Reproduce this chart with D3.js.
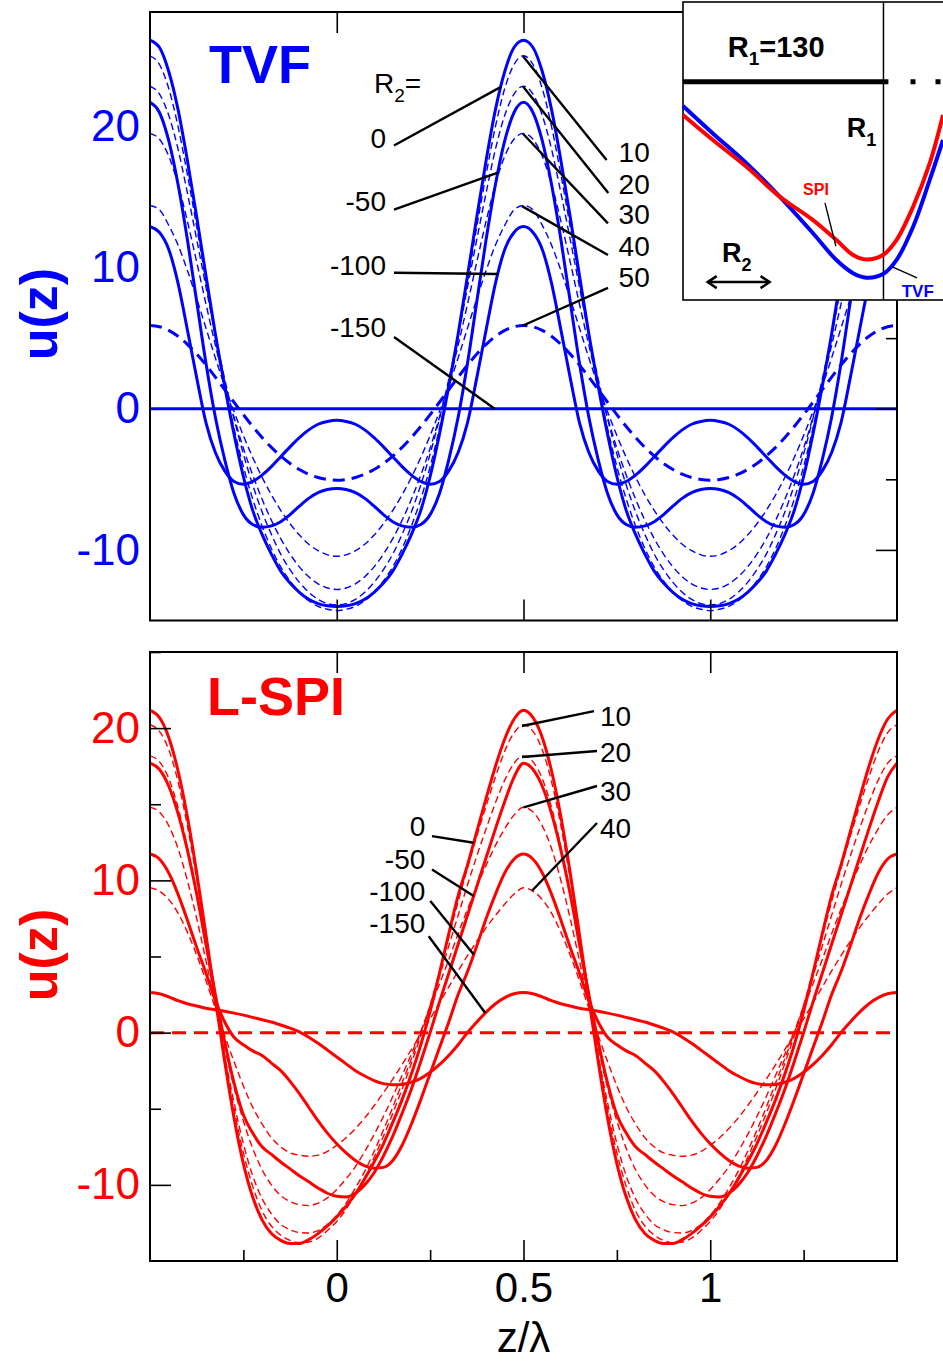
<!DOCTYPE html>
<html>
<head>
<meta charset="utf-8">
<script src="https://d3js.org/d3.v7.min.js"></script>
<style>
html,body{margin:0;padding:0;background:#fff;}
svg{display:block;}
text{font-family:"Liberation Sans",Arial,Helvetica,sans-serif;}
</style>
</head>
<body>
<svg id="chart" width="943" height="1362"></svg>
<script>
// ================= DATA =================
const xTicksMajor = [0, 0.5, 1];
const xTicksMinor = [-0.25, 0.25, 0.75, 1.25];
const xTickLabels = ["0", "0.5", "1"];
const yTicksMajor = [-10, 0, 10, 20];
const yTicksMinor = [-5, 5, 15, 25];
const yTickLabels = ["-10", "0", "10", "20"];

// TVF: values on half period, s = |z| from 0 to 0.5 (curves are even and 1-periodic)
const tvfS = [0,0.025,0.05,0.075,0.1,0.125,0.15,0.175,0.2,0.225,0.25,0.275,0.3,0.325,0.35,0.375,0.4,0.425,0.45,0.475,0.5];
const tvfR2 = ["0","-50","-100","-150","10","20","30","40","50"];
const tvf_0    = [-14.0,-13.95,-13.8,-13.5,-13.0,-12.35,-11.5,-10.3,-8.9,-7.2,-4.8,-1.8,1.6,5.3,9.4,13.6,17.6,21.2,23.9,25.6,26.1];
const tvf_m50  = [-5.65,-5.72,-5.95,-6.35,-6.9,-7.5,-8.0,-8.3,-8.4,-8.2,-7.5,-6.0,-3.6,-0.6,3.2,7.6,12.0,15.9,19.0,21.0,21.7];
const tvf_m100 = [-0.82,-0.9,-1.1,-1.5,-2.05,-2.7,-3.4,-4.1,-4.7,-5.15,-5.35,-5.15,-4.4,-3.1,-1.0,2.2,5.6,8.9,11.3,12.5,12.9];
const tvf_m150 = [0,0,0,0,0,0,0,0,0,0,0,0,0,0,0,0,0,0,0,0,0];
const tvf_10   = [-14.3,-14.2,-14.0,-13.6,-13.0,-12.2,-11.2,-9.9,-8.3,-6.4,-4.1,-1.4,1.7,5.2,9.0,12.9,16.6,20.0,22.7,24.4,25.0];
const tvf_20   = [-13.9,-13.8,-13.5,-13.0,-12.3,-11.4,-10.3,-8.9,-7.3,-5.4,-3.2,-0.7,2.1,5.2,8.6,12.0,15.3,18.4,20.8,22.3,22.85];
const tvf_30   = [-12.8,-12.7,-12.4,-11.9,-11.2,-10.3,-9.2,-7.9,-6.4,-4.7,-2.8,-0.6,1.8,4.5,7.4,10.4,13.3,15.9,17.9,19.1,19.5];
const tvf_40   = [-10.45,-10.35,-10.05,-9.6,-8.95,-8.15,-7.2,-6.1,-4.85,-3.45,-1.9,-0.2,1.6,3.6,5.7,7.8,9.8,11.6,13.0,14.1,14.4];
const tvf_50   = [-5.06,-5.01,-4.87,-4.64,-4.30,-3.88,-3.35,-2.74,-2.03,-1.26,-0.42,0.46,1.35,2.24,3.09,3.88,4.56,5.13,5.55,5.81,5.9];

// L-SPI: values over one period z from -0.5 to 0.5 (1-periodic)
const spiZ = [-0.5,-0.475,-0.45,-0.425,-0.4,-0.375,-0.35,-0.325,-0.3,-0.275,-0.25,-0.225,-0.2,-0.175,-0.15,-0.125,-0.1,-0.075,-0.05,-0.025,0,
              0.025,0.05,0.075,0.1,0.125,0.15,0.175,0.2,0.225,0.25,0.275,0.3,0.325,0.35,0.375,0.4,0.425,0.45,0.475,0.5];
const spiR2 = ["0","-50","-100","-150","10","20","30","40","50"];
const spi_0    = [21.17,20.7,19.4,17.2,14.2,10.5,6.4,2.2,-1.9,-5.6,-8.6,-10.8,-12.3,-13.2,-13.65,-13.85,-13.85,-13.6,-13.2,-12.7,-12.1,-11.4,-10.6,-9.6,-8.5,-7.3,-5.9,-4.4,-2.7,-0.8,1.4,3.9,6.5,9.0,11.0,13.2,15.4,17.5,19.3,20.6,21.17];
const spi_m50  = [17.7,17.3,16.2,14.4,12.0,9.1,5.8,2.5,-0.6,-3.3,-5.4,-6.6,-7.5,-8.0,-8.5,-8.95,-9.4,-9.8,-10.2,-10.55,-10.75,-10.8,-10.55,-10.0,-9.2,-8.1,-6.8,-5.3,-3.7,-1.9,0.0,2.0,3.9,5.8,7.7,9.6,11.5,13.4,15.2,16.8,17.7];
const spi_m100 = [11.73,11.4,10.5,9.1,7.4,5.6,3.9,2.1,0.7,-0.3,-0.8,-1.2,-1.5,-2.0,-2.5,-3.2,-4.0,-4.9,-5.8,-6.6,-7.3,-7.9,-8.4,-8.75,-8.9,-8.85,-8.4,-7.4,-6.0,-4.4,-2.7,-1.0,0.7,2.5,4.0,5.7,7.5,9.1,10.5,11.4,11.73];
const spi_m150 = [2.63,2.55,2.35,2.1,1.9,1.75,1.6,1.5,1.4,1.28,1.15,1.0,0.85,0.7,0.5,0.3,0.05,-0.3,-0.7,-1.15,-1.6,-2.05,-2.5,-2.85,-3.15,-3.35,-3.42,-3.4,-3.25,-3.0,-2.6,-2.1,-1.5,-0.8,0.0,0.7,1.35,1.9,2.3,2.55,2.63];
const spi_10   = [20.22,19.8,18.6,16.5,13.6,10.1,6.2,2.2,-1.6,-5.0,-7.9,-10.1,-11.7,-12.7,-13.3,-13.65,-13.8,-13.75,-13.5,-13.0,-12.4,-11.6,-10.6,-9.5,-8.2,-6.8,-5.3,-3.7,-2.0,-0.2,1.8,4.0,6.3,8.6,10.8,12.9,14.9,16.8,18.5,19.7,20.22];
const spi_20   = [18.18,17.8,16.7,14.8,12.2,9.1,5.6,2.0,-1.5,-4.6,-7.3,-9.4,-10.9,-11.9,-12.6,-12.95,-13.13,-13.16,-13.0,-12.6,-12.0,-11.2,-10.2,-9.1,-7.8,-6.4,-4.9,-3.3,-1.7,0.0,1.8,3.7,5.7,7.7,9.7,11.6,13.4,15.1,16.6,17.7,18.18];
const spi_30   = [14.8,14.5,13.6,12.1,10.0,7.5,4.7,1.8,-1.0,-3.6,-5.8,-7.6,-9.0,-10.0,-10.7,-11.1,-11.3,-11.36,-11.2,-10.85,-10.3,-9.6,-8.8,-7.8,-6.7,-5.5,-4.2,-2.8,-1.4,0.1,1.6,3.2,4.8,6.5,8.1,9.6,11.0,12.3,13.4,14.3,14.8];
const spi_40   = [9.52,9.3,8.75,7.85,6.6,5.1,3.4,1.6,-0.2,-1.9,-3.5,-4.9,-6.0,-6.9,-7.5,-7.9,-8.05,-8.12,-8.05,-7.8,-7.4,-6.9,-6.3,-5.6,-4.8,-3.95,-3.05,-2.1,-1.1,-0.1,0.9,1.95,3.0,4.05,5.05,6.0,6.9,7.7,8.45,9.1,9.52];
const spi_50   = [0,0,0,0,0,0,0,0,0,0,0,0,0,0,0,0,0,0,0,0,0,0,0,0,0,0,0,0,0,0,0,0,0,0,0,0,0,0,0,0,0];

// Inset schematic (arbitrary units 0..100)
const insetX   = [0, 11.5, 24.4, 37.2, 50.0, 59.0, 65.4, 70.5, 76.9, 82.1, 88.5, 94.9, 100];
const insetTVF = [65.1, 55.9, 45.9, 34.7, 22.4, 13.4, 9.0, 7.5, 8.7, 13.4, 24.6, 40.3, 53.7];
const insetSPI = [62.1, 53.7, 44.7, 34.7, 26.8, 20.1, 15.1, 13.6, 15.1, 20.1, 31.3, 45.9, 62.1];

// ================= LAYOUT =================
const BLUE = "#0000ff", RED = "#ff0000";
const svg = d3.select("#chart");
const x  = d3.scaleLinear().domain([-0.5, 1.5]).range([150, 897]);
const yT = d3.scaleLinear().domain([-15, 28.1]).range([620.5, 12]);
const yB = d3.scaleLinear().domain([-15, 25]).range([1261, 652]);

// annotation layout (data units of each panel)
const tvfAnn = [
  {r:"0",    tz:0.1319, tu:18.47, anchor:"end",   lz:0.1533, lu:18.64, ez:0.4398},
  {r:"-50",  tz:0.1319, tu:13.97, anchor:"end",   lz:0.1533, lu:14.10, ez:0.4317},
  {r:"-100", tz:0.1319, tu:9.48,  anchor:"end",   lz:0.1533, lu:9.63,  ez:0.4317},
  {r:"-150", tz:0.1319, tu:5.08,  anchor:"end",   lz:0.1533, lu:5.08,  ez:0.4229},
  {r:"10",   tz:0.7546, tu:17.47, anchor:"start", lz:0.7225, lu:17.62, ez:0.4987},
  {r:"20",   tz:0.7546, tu:15.24, anchor:"start", lz:0.7270, lu:15.28, ez:0.4987},
  {r:"30",   tz:0.7546, tu:13.05, anchor:"start", lz:0.7262, lu:13.13, ez:0.4987},
  {r:"40",   tz:0.7546, tu:10.82, anchor:"start", lz:0.7262, lu:10.89, ez:0.4960},
  {r:"50",   tz:0.7546, tu:8.62,  anchor:"start", lz:0.7262, lu:8.56,  ez:0.4987}
];
const spiAnn = [
  {r:"0",    tz:0.2371, tu:12.91, anchor:"end",   lz:0.2550, lu:12.91, ez:0.3667},
  {r:"-50",  tz:0.2371, tu:10.76, anchor:"end",   lz:0.2550, lu:10.71, ez:0.3667},
  {r:"-100", tz:0.2371, tu:8.65,  anchor:"end",   lz:0.2505, lu:8.65,  ez:0.3667},
  {r:"-150", tz:0.2371, tu:6.57,  anchor:"end",   lz:0.2462, lu:6.33,  ez:0.3977},
  {r:"10",   tz:0.7048, tu:20.14, anchor:"start", lz:0.6888, lu:21.12, ez:0.4960},
  {r:"20",   tz:0.7048, tu:17.77, anchor:"start", lz:0.6968, lu:18.50, ez:0.4960},
  {r:"30",   tz:0.7048, tu:15.21, anchor:"start", lz:0.6968, lu:16.20, ez:0.5005},
  {r:"40",   tz:0.7048, tu:12.78, anchor:"start", lz:0.6968, lu:13.77, ez:0.5228}
];

// ================= HELPERS =================
function tile(per) { // per covers [-0.5,0.5] -> extend to [-0.5,1.5]
  const out = per.slice();
  for (let i = 1; i < per.length; i++) out.push([per[i][0] + 1, per[i][1]]);
  return out;
}
function tvfPoints(vals) {
  const per = [];
  for (let i = tvfS.length - 1; i >= 0; i--) per.push([-tvfS[i], vals[i]]);
  for (let i = 1; i < tvfS.length; i++) per.push([tvfS[i], vals[i]]);
  return tile(per);
}
function spiPoints(vals) {
  return tile(spiZ.map((z, i) => [z, vals[i]]));
}
function valueAt(pts, z) {
  for (let i = 1; i < pts.length; i++) {
    if (z <= pts[i][0]) {
      const a = pts[i-1], b = pts[i];
      const t = (z - a[0]) / (b[0] - a[0]);
      return a[1] + t * (b[1] - a[1]);
    }
  }
  return pts[pts.length-1][1];
}
function styleFor(r) {
  const v = +r;
  if (v <= 0) return {w: 3, dash: null};
  if (v >= 50) return {w: 3, dash: "12,7"};
  return {w: 1.4, dash: "7,4"};
}

const tvfVals = {"0":tvf_0, "-50":tvf_m50, "-100":tvf_m100, "-150":tvf_m150, "10":tvf_10, "20":tvf_20, "30":tvf_30, "40":tvf_40, "50":tvf_50};
const spiVals = {"0":spi_0, "-50":spi_m50, "-100":spi_m100, "-150":spi_m150, "10":spi_10, "20":spi_20, "30":spi_30, "40":spi_40, "50":spi_50};

const defs = svg.append("defs");
defs.append("clipPath").attr("id","clipT").append("rect")
  .attr("x", x(-0.5)).attr("y", yT(28.1)).attr("width", x(1.5)-x(-0.5)).attr("height", yT(-15)-yT(28.1));
defs.append("clipPath").attr("id","clipB").append("rect")
  .attr("x", x(-0.5)).attr("y", yB(25)).attr("width", x(1.5)-x(-0.5)).attr("height", yB(-15)-yB(25));

function drawPanel(y, R2s, valsMap, pointsFn, color, clipId, ann, isTop) {
  const g = svg.append("g");
  const line = d3.line().x(d => x(d[0])).y(d => y(d[1])).curve(d3.curveMonotoneX);
  const cg = g.append("g").attr("clip-path", `url(#${clipId})`);
  const pts = {};
  R2s.forEach(r => {
    pts[r] = pointsFn(valsMap[r]);
    const st = styleFor(r);
    let w = st.w, dash = st.dash;
    if (!isTop && r === "50") dash = "14,8";
    cg.append("path").datum(pts[r])
      .attr("d", line).attr("fill","none").attr("stroke", color)
      .attr("stroke-width", w).attr("stroke-dasharray", dash)
      .attr("stroke-linejoin","round");
  });

  // frame
  g.append("rect").attr("x", x(-0.5)).attr("y", y.range()[1])
    .attr("width", x(1.5)-x(-0.5)).attr("height", y.range()[0]-y.range()[1])
    .attr("fill","none").attr("stroke","#000").attr("stroke-width",2);

  // ticks
  const top = y.range()[1], bot = y.range()[0];
  const tickG = g.append("g").attr("stroke","#000");
  function addAxis(axis, tx, ty) {
    const a = tickG.append("g").attr("transform", `translate(${tx},${ty})`).call(axis);
    a.select(".domain").remove();
    a.selectAll("line").attr("stroke","#000").attr("stroke-width",1.6);
    return a;
  }
  addAxis(d3.axisTop(x).tickValues(xTicksMajor).tickSize(-21).tickFormat(""), 0, top);
  addAxis(d3.axisBottom(x).tickValues(xTicksMajor).tickSize(-21).tickFormat(""), 0, bot);
  if (isTop) {
    addAxis(d3.axisRight(y).tickValues(yTicksMajor).tickSize(-21).tickFormat(""), x(1.5), 0);
    addAxis(d3.axisRight(y).tickValues(yTicksMinor).tickSize(-11).tickFormat(""), x(1.5), 0);
  } else {
    addAxis(d3.axisBottom(x).tickValues(xTicksMinor).tickSize(-11).tickFormat(""), 0, bot);
    addAxis(d3.axisLeft(y).tickValues(yTicksMajor).tickSize(-21).tickFormat(""), x(-0.5), 0);
    addAxis(d3.axisLeft(y).tickValues(yTicksMinor).tickSize(-11).tickFormat(""), x(-0.5), 0);
  }
  // y tick labels
  const yl = g.append("g").attr("transform", `translate(${x(-0.5)},0)`)
    .call(d3.axisLeft(y).tickValues(yTicksMajor).tickSize(0).tickPadding(10)
      .tickFormat(d => yTickLabels[yTicksMajor.indexOf(d)]));
  yl.select(".domain").remove();
  yl.selectAll("text").attr("fill", color).attr("font-size", 44)
    .attr("font-family", '"Liberation Sans", Arial, sans-serif');

  // y title
  const midY = y(isTop ? 6.7 : 5.1);
  g.append("text").attr("transform", `translate(39,${midY}) rotate(-90)`)
    .attr("text-anchor","middle").attr("dominant-baseline","central")
    .attr("font-size", 52).attr("font-weight","bold").attr("fill", color).text("u(z)");

  // annotations
  const ag = g.append("g");
  ann.forEach(a => {
    const ex = a.ez, eu = valueAt(pts[a.r], a.ez);
    ag.append("line").attr("x1", x(a.lz)).attr("y1", y(a.lu)).attr("x2", x(ex)).attr("y2", y(eu))
      .attr("stroke","#000").attr("stroke-width",2.4);
    ag.append("text").attr("x", x(a.tz)).attr("y", y(a.tu)).attr("text-anchor", a.anchor)
      .attr("font-size", 28).attr("fill","#000").text(a.r);
  });
  return g;
}

// ----- top (TVF) -----
const gT = drawPanel(yT, tvfR2, tvfVals, tvfPoints, BLUE, "clipT", tvfAnn, true);
gT.append("text").attr("x", 209).attr("y", 83).attr("font-size", 54).attr("font-weight","bold")
  .attr("fill", BLUE).text("TVF");
const r2t = gT.append("text").attr("x", x(0.0995)).attr("y", yT(22.36)).attr("font-size", 28).attr("fill","#000");
r2t.append("tspan").text("R");
r2t.append("tspan").attr("font-size", 19).attr("dy", 9).text("2");
r2t.append("tspan").attr("dy", -9).text("=");

// ----- bottom (L-SPI) -----
const gB = drawPanel(yB, spiR2, spiVals, spiPoints, RED, "clipB", spiAnn, false);
gB.append("text").attr("x", 207).attr("y", 715).attr("font-size", 54).attr("font-weight","bold")
  .attr("fill", RED).text("L-SPI");

// x tick labels (bottom)
const xl = svg.append("g").attr("transform", `translate(0,${yB(-15)})`)
  .call(d3.axisBottom(x).tickValues(xTicksMajor).tickSize(0).tickPadding(11)
    .tickFormat(d => xTickLabels[xTicksMajor.indexOf(d)]));
xl.select(".domain").remove();
xl.selectAll("text").attr("font-size", 42).attr("fill","#000")
  .attr("font-family", '"Liberation Sans", Arial, sans-serif');
svg.append("text").attr("x", x(0.5)).attr("y", 1352).attr("text-anchor","middle")
  .attr("font-size", 42).attr("fill","#000").text("z/λ");

// ----- inset -----
const ix = d3.scaleLinear().domain([0, 100]).range([683, 943]);
const iy = d3.scaleLinear().domain([0, 100]).range([300, 2]);
const ig = svg.append("g");
ig.append("rect").attr("x", ix(0)).attr("y", iy(100)).attr("width", 270).attr("height", iy(0)-iy(100))
  .attr("fill","#fff").attr("stroke","#000").attr("stroke-width",1.6);
ig.append("line").attr("x1", ix(77.1)).attr("x2", ix(77.1)).attr("y1", iy(100)).attr("y2", iy(0))
  .attr("stroke","#000").attr("stroke-width",1.5);
ig.append("line").attr("x1", ix(0)).attr("x2", ix(79)).attr("y1", iy(73.2)).attr("y2", iy(73.2))
  .attr("stroke","#000").attr("stroke-width",5);
ig.append("line").attr("x1", ix(87.5)).attr("x2", ix(100)).attr("y1", iy(73.2)).attr("y2", iy(73.2))
  .attr("stroke","#000").attr("stroke-width",5).attr("stroke-dasharray","5,20");
const iline = d3.line().x(d => ix(d[0])).y(d => iy(d[1])).curve(d3.curveCatmullRom.alpha(0.5));
ig.append("path").datum(insetX.map((v,i)=>[v, insetTVF[i]])).attr("d", iline)
  .attr("fill","none").attr("stroke", BLUE).attr("stroke-width",4);
ig.append("path").datum(insetX.map((v,i)=>[v, insetSPI[i]])).attr("d", iline)
  .attr("fill","none").attr("stroke", RED).attr("stroke-width",4);
function subText(g, px, py, main, sub, rest, fs, sfs, dy, color) {
  const t = g.append("text").attr("x", px).attr("y", py).attr("font-size", fs)
    .attr("font-weight","bold").attr("fill", color);
  t.append("tspan").text(main);
  t.append("tspan").attr("font-size", sfs).attr("dy", dy).text(sub);
  if (rest) t.append("tspan").attr("dy", -dy).text(rest);
}
subText(ig, ix(17.2), iy(81.5), "R", "1", "=130", 29, 19, 8, "#000");
subText(ig, ix(63.0), iy(54.7), "R", "1", null, 27, 18, 9, "#000");
subText(ig, ix(15.0), iy(12.8), "R", "2", null, 27, 18, 9, "#000");
ig.append("text").attr("x", ix(46.2)).attr("y", iy(35.2)).attr("font-size", 16).attr("font-weight","bold")
  .attr("fill", RED).text("SPI");
ig.append("text").attr("x", ix(84.1)).attr("y", iy(1.0)).attr("font-size", 17).attr("font-weight","bold")
  .attr("fill", BLUE).text("TVF");
ig.append("line").attr("x1", ix(54.6)).attr("y1", iy(32.6)).attr("x2", ix(58.8)).attr("y2", iy(18.1))
  .attr("stroke","#000").attr("stroke-width",1.4);
ig.append("line").attr("x1", ix(80.3)).attr("y1", iy(11.2)).attr("x2", ix(90.0)).attr("y2", iy(7.4))
  .attr("stroke","#000").attr("stroke-width",1.4);
// double arrow
const ax1 = ix(9.5), ax2 = ix(33.3), ay = iy(6.0);
ig.append("line").attr("x1", ax1).attr("x2", ax2).attr("y1", ay).attr("y2", ay)
  .attr("stroke","#000").attr("stroke-width",2.5);
ig.append("path").attr("d", `M${ax1+9},${ay-6}L${ax1},${ay}L${ax1+9},${ay+6}`)
  .attr("fill","none").attr("stroke","#000").attr("stroke-width",2.5);
ig.append("path").attr("d", `M${ax2-9},${ay-6}L${ax2},${ay}L${ax2-9},${ay+6}`)
  .attr("fill","none").attr("stroke","#000").attr("stroke-width",2.5);
</script>
</body>
</html>
